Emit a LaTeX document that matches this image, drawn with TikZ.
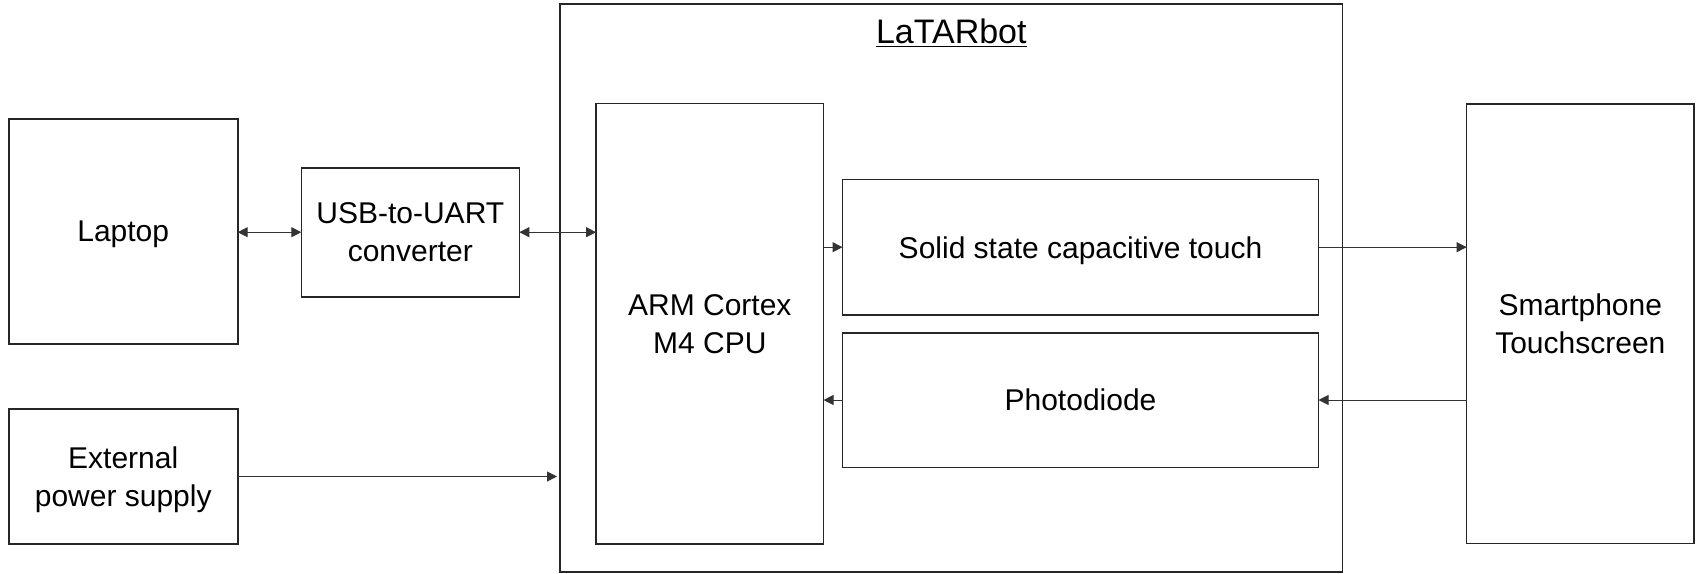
\documentclass[tikz,border=0pt]{standalone}
\usepackage{fontspec}
\setmainfont{Liberation Sans}
\usetikzlibrary{arrows.meta}
\begin{document}
\begin{tikzpicture}[x=0.5pt,y=-0.5pt,
  box/.style={draw=black!85, line width=0.8pt, inner sep=0pt, outer sep=0pt,
              align=center, font=\fontsize{15}{19}\selectfont},
  flat/.style={text depth=0pt},
  link/.style={draw=black!80, line width=0.5pt},
  tip/.style={-{Triangle[length=5pt,width=5pt]}},
  both/.style={{Triangle[length=5pt,width=5pt]}-{Triangle[length=5pt,width=5pt]}}]
\useasboundingbox (0,0) rectangle (1696,573);

% outer system boundary
\node[box, minimum width=391.3pt, minimum height=283.9pt] (bot) at (951.3,287.9) {};
\node[anchor=base, inner sep=0pt, font=\fontsize{17}{20}\selectfont] (title) at (951.3,43.3) {\underline{LaTARbot}};

% external blocks
\node[box, flat, minimum width=114.5pt, minimum height=112.5pt] (laptop) at (123.2,231.5) {Laptop};
\node[box, minimum width=109pt, minimum height=64.5pt] (usb) at (410.3,232.2) {USB-to-UART\\converter};
\node[box, flat, minimum width=114.5pt, minimum height=67.5pt] (ext) at (123.2,476.5) {External\\power supply};
\node[box, minimum width=113.65pt, minimum height=219.65pt] (phone) at (1580.3,323.7) {Smartphone\\Touchscreen};

% internal blocks
\node[box, minimum width=113.75pt, minimum height=220.25pt] (arm) at (709.8,323.8) {ARM Cortex\\M4 CPU};
\node[box, flat, minimum width=238pt, minimum height=67.85pt] (solid) at (1080.5,247.2) {Solid state capacitive touch};
\node[box, minimum width=238pt, minimum height=67.3pt] (photo) at (1080.5,400) {Photodiode};

% connections
\draw[link,both] (laptop.east |- usb.west) -- (usb.west);
\draw[link,both] (usb.east) -- (usb.east -| arm.west);
\draw[link,tip] (arm.east |- solid.west) -- (solid.west);
\draw[link,tip] (photo.west) -- (photo.west -| arm.east);
\draw[link,tip] (solid.east) -- (solid.east -| phone.west);
\draw[link,tip] (phone.west |- photo.east) -- (photo.east);
\draw[link,tip,shorten >=1.5pt] (ext.east) -- (ext.east -| bot.west);
\end{tikzpicture}
\end{document}
